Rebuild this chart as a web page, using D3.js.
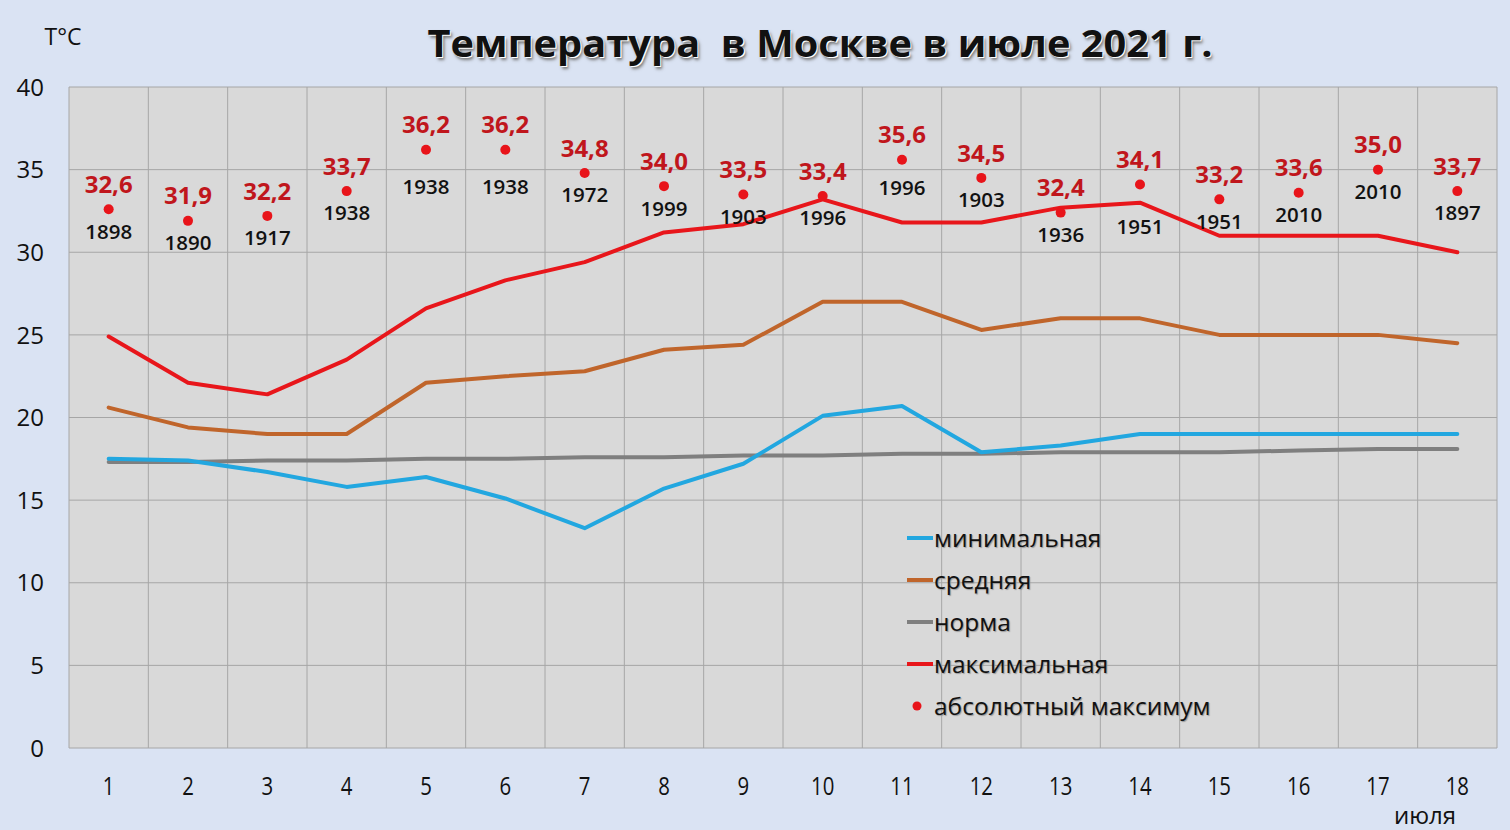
<!DOCTYPE html>
<html><head><meta charset="utf-8">
<script src="https://cdn.jsdelivr.net/npm/d3@7"></script>
<style>
html,body{margin:0;padding:0;background:#dae3f3;}
svg{display:block;}
.title{font-family:"Open Sans","Noto Sans",sans-serif;font-weight:700;white-space:pre;text-shadow:1px 1px 0 #fff,2px 3px 3px #777;}
</style></head>
<body>
<script>
const days = [1,2,3,4,5,6,7,8,9,10,11,12,13,14,15,16,17,18];
const tMin  = [17.5,17.4,16.7,15.8,16.4,15.1,13.3,15.7,17.2,20.1,20.7,17.9,18.3,19.0,19.0,19.0,19.0,19.0];
const tMean = [20.6,19.4,19.0,19.0,22.1,22.5,22.8,24.1,24.4,27.0,27.0,25.3,26.0,26.0,25.0,25.0,25.0,24.5];
const tNorm = [17.3,17.3,17.4,17.4,17.5,17.5,17.6,17.6,17.7,17.7,17.8,17.8,17.9,17.9,17.9,18.0,18.1,18.1];
const tMax  = [24.9,22.1,21.4,23.5,26.6,28.3,29.4,31.2,31.7,33.2,31.8,31.8,32.7,33.0,31.0,31.0,31.0,30.0];
const absMax = [32.6,31.9,32.2,33.7,36.2,36.2,34.8,34.0,33.5,33.4,35.6,34.5,32.4,34.1,33.2,33.6,35.0,33.7];
const absYear = [1898,1890,1917,1938,1938,1938,1972,1999,1903,1996,1996,1903,1936,1951,1951,2010,2010,1897];
const yTicks = [0,5,10,15,20,25,30,35,40];
const legendNames = ["минимальная","средняя","норма","максимальная","абсолютный максимум"];

const W = 1510, H = 830;
const m = {l:69, r:13, t:87, b:82};
const svg = d3.select("body").append("svg").attr("width",W).attr("height",H);
svg.append("rect").attr("width",W).attr("height",H).attr("fill","#dae3f3");

const x = d3.scaleBand().domain(days).range([m.l, W-m.r]).padding(0);
const y = d3.scaleLinear().domain([0,40]).range([H-m.b, m.t]);
const cx = d => x(d) + x.bandwidth()/2;

svg.append("rect").attr("x",m.l).attr("y",m.t).attr("width",W-m.r-m.l).attr("height",H-m.b-m.t).attr("fill","#d9d9d9");

svg.append("g").selectAll("line").data(yTicks).join("line")
  .attr("x1",m.l).attr("x2",W-m.r).attr("y1",d=>y(d)).attr("y2",d=>y(d))
  .attr("stroke","#a6a6a6").attr("stroke-width",1);
const vlines = days.map(d=>x(d)).concat([W-m.r]);
svg.append("g").selectAll("line").data(vlines).join("line")
  .attr("x1",d=>d).attr("x2",d=>d).attr("y1",m.t).attr("y2",H-m.b)
  .attr("stroke","#a6a6a6").attr("stroke-width",1);

svg.append("g").selectAll("text").data(yTicks).join("text")
  .attr("x",44).attr("y",d=>y(d)).attr("dy","0.36em").attr("text-anchor","end")
  .attr("font-family","Open Sans, sans-serif").attr("font-size",24).attr("fill","#111")
  .text(d=>d);
svg.append("g").selectAll("text").data(days).join("text")
  .attr("x",d=>cx(d)).attr("y",786).attr("dy","0.36em").attr("text-anchor","middle")
  .attr("font-family","Open Sans, sans-serif").attr("font-size",24).attr("fill","#111")
  .attr("transform",d=>`translate(${cx(d)},786) scale(0.85,1.05) translate(${-cx(d)},-786)`)
  .text(d=>d);
svg.append("text").attr("x",1425).attr("y",815).attr("dy","0.36em").attr("text-anchor","middle")
  .attr("font-family","Open Sans, sans-serif").attr("font-size",24).attr("fill","#111").text("июля");

svg.append("text").attr("x",63).attr("y",37).attr("dy","0.36em").attr("text-anchor","middle")
  .attr("font-family","Open Sans, sans-serif").attr("font-size",23).attr("fill","#111").text("Т°С");

svg.append("text").attr("class","title").attr("x",820).attr("y",44).attr("dy","0.36em").attr("text-anchor","middle")
  .attr("font-size",37).attr("fill","#111")
  .attr("textLength",785).attr("lengthAdjust","spacingAndGlyphs")
  .text("Температура  в Москве в июле 2021 г.");

const series = [
  {vals:tNorm, color:"#7f7f7f"},
  {vals:tMin, color:"#22a7e0"},
  {vals:tMean, color:"#c0652b"},
  {vals:tMax, color:"#e8161b"}
];
const line = d3.line().x((v,i)=>cx(days[i])).y(v=>y(v));
series.forEach(s=>{
  svg.append("path").datum(s.vals).attr("d",line).attr("fill","none")
    .attr("stroke",s.color).attr("stroke-width",4).attr("stroke-linejoin","round").attr("stroke-linecap","round");
});

const yearShift = {5:15, 6:15, 11:6, 14:20};
svg.append("g").selectAll("circle").data(absMax).join("circle")
  .attr("cx",(v,i)=>cx(days[i])).attr("cy",v=>y(v)).attr("r",5).attr("fill","#e8141a");
svg.append("g").selectAll("text").data(absMax).join("text")
  .attr("x",(v,i)=>cx(days[i])).attr("y",v=>y(v)-25).attr("dy","0.36em").attr("text-anchor","middle")
  .attr("font-family","Open Sans, sans-serif").attr("font-weight",700).attr("font-size",24).attr("fill","#c0161c")
  .text(v=>v.toFixed(1).replace(".",","));
svg.append("g").selectAll("text").data(absYear).join("text")
  .attr("x",(v,i)=>cx(days[i])).attr("y",(v,i)=>y(absMax[i])+22+(yearShift[days[i]]||0)).attr("dy","0.36em").attr("text-anchor","middle")
  .attr("font-family","Open Sans, sans-serif").attr("font-weight",600).attr("font-size",20.5).attr("fill","#111")
  .text(v=>v);

const legColors = ["#22a7e0","#c0652b","#7f7f7f","#e8161b"];
const lg = svg.append("g");
legendNames.forEach((n,i)=>{
  const yy = 538 + i*42;
  if (i<4) lg.append("line").attr("x1",907).attr("x2",933).attr("y1",yy).attr("y2",yy)
    .attr("stroke",legColors[i]).attr("stroke-width",4);
  else lg.append("circle").attr("cx",917).attr("cy",yy).attr("r",4.5).attr("fill","#e8141a");
  lg.append("text").attr("x",934).attr("y",yy).attr("dy","0.36em")
    .attr("font-family","Open Sans, sans-serif").attr("font-size",24.5).attr("fill","#111")
    .attr("style","text-shadow:1px 1px 1px #999").text(n);
});
</script>
</body></html>
